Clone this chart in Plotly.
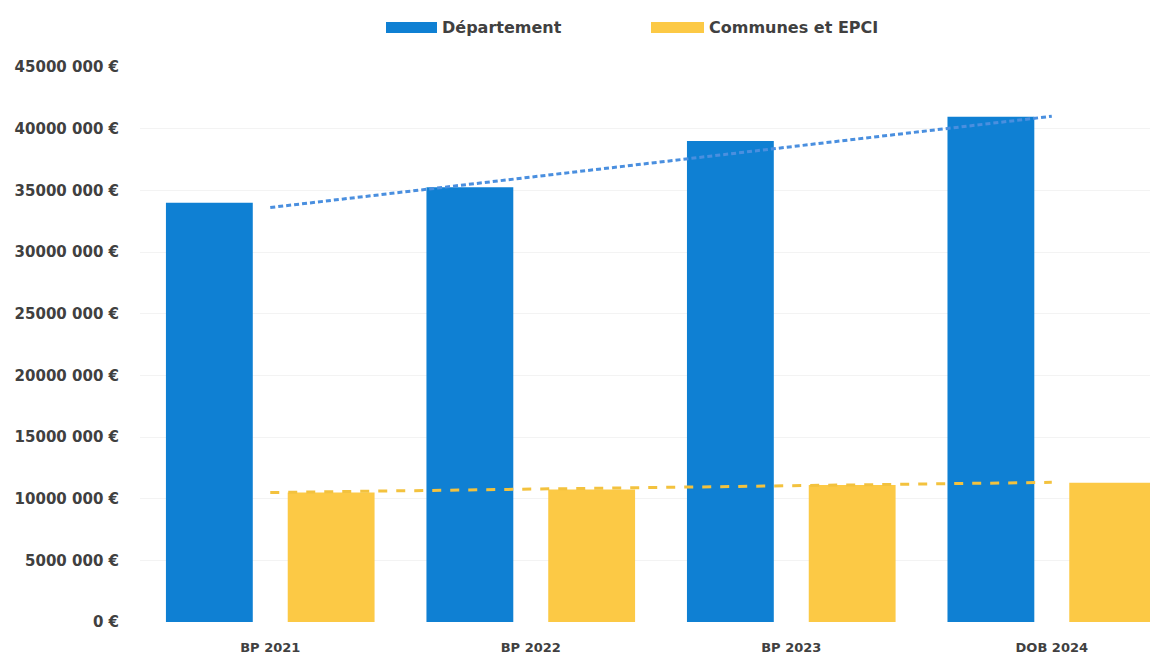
import numpy as np
import plotly.graph_objects as go

# Budget categories and amounts (euros)
categories = ["BP 2021", "BP 2022", "BP 2023", "DOB 2024"]
departement = [34_000_000, 35_250_000, 39_000_000, 40_970_000]
communes_epci = [10_500_000, 10_750_000, 11_100_000, 11_300_000]

y_tick_values = [0, 5e6, 10e6, 15e6, 20e6, 25e6, 30e6, 35e6, 40e6, 45e6]
y_tick_labels = ["0 €", "5000 000 €", "10000 000 €", "15000 000 €", "20000 000 €",
                 "25000 000 €", "30000 000 €", "35000 000 €", "40000 000 €", "45000 000 €"]

BLUE = "#0f80d3"
YELLOW = "#fcc945"
BLUE_TREND = "#4a8fdf"
YELLOW_TREND = "#f3c23e"
TEXT = "#404040"
FONT = "DejaVu Sans"

x = np.arange(len(categories))

def linear_trend(values):
    slope, intercept = np.polyfit(x, values, 1)
    return slope * x + intercept

fig = go.Figure()
fig.add_trace(go.Bar(x=x, y=departement, name="Département",
                     marker=dict(color=BLUE, line=dict(width=0))))
fig.add_trace(go.Bar(x=x, y=communes_epci, name="Communes et EPCI",
                     marker=dict(color=YELLOW, line=dict(width=0))))

# Linear trend lines of each series
fig.add_trace(go.Scatter(x=x, y=linear_trend(departement), mode="lines",
                         line=dict(color=BLUE_TREND, width=3, dash="5px,3px"),
                         showlegend=False, hoverinfo="skip"))
fig.add_trace(go.Scatter(x=x, y=linear_trend(communes_epci), mode="lines",
                         line=dict(color=YELLOW_TREND, width=3, dash="9px,9px"),
                         showlegend=False, hoverinfo="skip"))

# Legend drawn as wide colour swatches with labels
legend_items = [("Département", BLUE, 386, 437), ("Communes et EPCI", YELLOW, 651, 704)]
W, H = 1150, 658
L, R, T, B = 140, 0, 67, 36
pw, ph = W - L - R, H - T - B
shapes, annotations = [], []
for label, color, x0, x1 in legend_items:
    shapes.append(dict(type="rect", xref="paper", yref="paper",
                       x0=(x0 - L) / pw, x1=(x1 - L) / pw,
                       y0=(H - B - 33) / ph, y1=(H - B - 22) / ph,
                       fillcolor=color, line=dict(width=0)))
    annotations.append(dict(text=label, xref="paper", yref="paper",
                            x=(x1 + 3 - L) / pw, y=(H - B - 27) / ph,
                            xanchor="left", yanchor="middle", showarrow=False,
                            font=dict(family=FONT, size=16, color=TEXT, weight="bold")))

fig.update_layout(
    width=W, height=H,
    margin=dict(l=L, r=R, t=T, b=B),
    paper_bgcolor="white", plot_bgcolor="white",
    barmode="group", bargap=0.065, bargroupgap=0.287,
    showlegend=False,
    shapes=shapes, annotations=annotations,
    xaxis=dict(range=[-0.5, 3.377], tickvals=list(x), ticktext=categories,
               showgrid=False, zeroline=False, showline=False,
               ticks="", ticklabelstandoff=16,
               tickfont=dict(family=FONT, size=13, color=TEXT, weight="bold")),
    yaxis=dict(range=[0, 45e6], tickvals=y_tick_values, ticktext=y_tick_labels,
               showgrid=True, gridcolor="#f3f3f3", gridwidth=1,
               zeroline=False, showline=False, ticks="",
               ticklabelstandoff=20,
               tickfont=dict(family=FONT, size=15, color=TEXT, weight="bold")),
)

fig.write_html("out.html")
